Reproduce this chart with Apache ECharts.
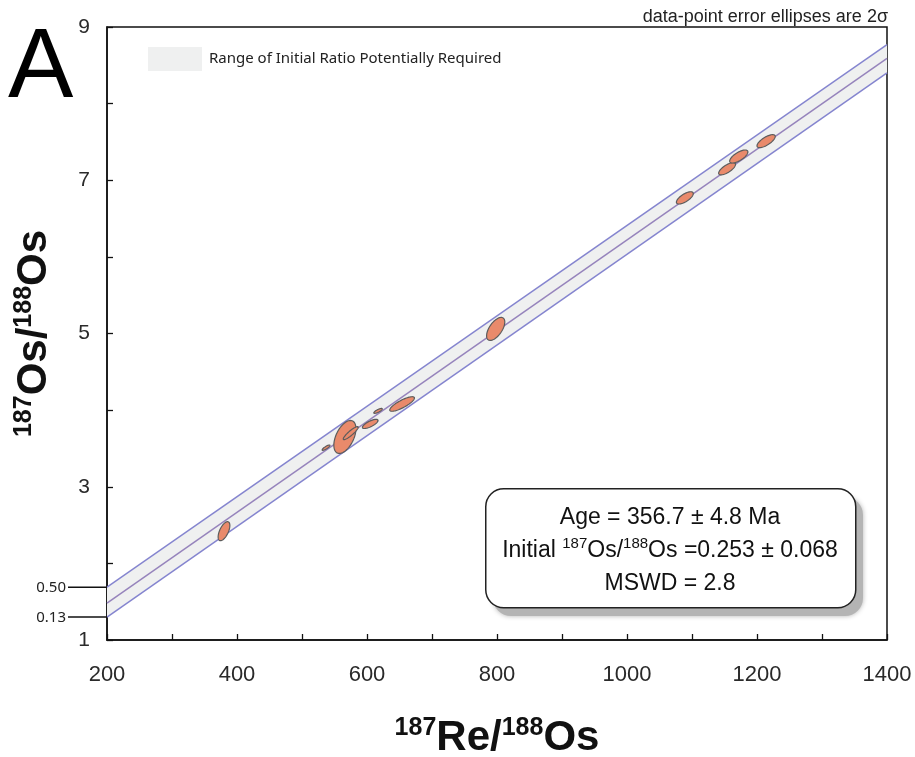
<!DOCTYPE html>
<html>
<head>
<meta charset="utf-8">
<script src="https://cdn.jsdelivr.net/npm/echarts@6/dist/echarts.min.js"></script>
<style>html,body{margin:0;padding:0;background:#fff;}#c{width:915px;height:757px;}</style>
</head>
<body>
<div id="c"></div>
<script>
// ---- data ----
const xTickLabels = [200, 400, 600, 800, 1000, 1200, 1400];
const yTickLabels = [1, 3, 5, 7, 9];
const lineX  = [200, 1400];
const upperY = [1.69, 8.77];
const regY   = [1.48, 8.59];
const lowerY = [1.30, 8.40];
const bandTickLabels = ['0.50', '0.13'];
const bandName = 'Range of Initial Ratio Potentially Required';
// error ellipses: centre x, centre y, 2σ x, 2σ y, correlation
const ellX   = [380, 537, 566, 575, 605, 617, 654, 798, 1089, 1154, 1172, 1214];
const ellY   = [2.42, 3.51, 3.65, 3.70, 3.82, 3.99, 4.08, 5.06, 6.77, 7.15, 7.31, 7.51];
const ellSx  = [9, 6, 17, 11.5, 12, 6.5, 19, 14, 13, 13, 14, 14];
const ellSy  = [0.124, 0.035, 0.215, 0.085, 0.06, 0.032, 0.095, 0.15, 0.08, 0.08, 0.085, 0.085];
const ellRho = [0.6, 0.85, 0.5, 0.9, 0.75, 0.8, 0.82, 0.6, 0.7, 0.72, 0.7, 0.72];

const chart = echarts.init(document.getElementById('c'));
const ellData = ellX.map((x, i) => [x, ellY[i], ellSx[i], ellSy[i], ellRho[i]]);
const bandData = [[lineX[0], upperY[0], lineX[1], upperY[1], lowerY[1], lowerY[0]]];
const toLine = ys => lineX.map((x, i) => [x, ys[i]]);
const bandLabelData = bandTickLabels.map((t, i) => [lineX[0], i === 0 ? upperY[0] : lowerY[0], i]);

const titleRich = {
  b: { fontFamily: 'Liberation Sans', fontWeight: 'bold', fontSize: 42, color: '#111', verticalAlign: 'bottom' },
  s: { fontFamily: 'Liberation Sans', fontWeight: 'bold', fontSize: 25, color: '#111', verticalAlign: 'bottom', padding: [0, 0, 18, 0] }
};

const option = {
  animation: false,
  backgroundColor: '#fff',
  grid: { left: 107, right: 28, top: 27, bottom: 117, containLabel: false, outerBoundsMode: 'none',
    show: true, borderColor: '#111', borderWidth: 1.5, backgroundColor: 'transparent' },
  legend: {
    left: 143, top: 42, itemWidth: 54, itemHeight: 24, icon: 'rect',
    data: [bandName],
    textStyle: { fontFamily: 'Noto Sans', fontSize: 15, color: '#222', padding: [0, 0, 0, 2] }
  },
  xAxis: {
    type: 'value', min: 200, max: 1400, interval: 100,
    axisLine: { lineStyle: { color: '#111', width: 1.5 } },
    axisTick: { inside: true, length: 6, lineStyle: { color: '#111', width: 1.3 } },
    splitLine: { show: false },
    axisLabel: { fontFamily: 'Liberation Sans', fontSize: 22, color: '#2a2a2a', margin: 24,
      formatter: v => xTickLabels.includes(v) ? String(v) : '' },
    name: '{s|187}{b|Re/}{s|188}{b|Os}', nameLocation: 'middle', nameGap: 76,
    nameTextStyle: { rich: titleRich }
  },
  yAxis: {
    type: 'value', min: 1, max: 9, interval: 1,
    axisLine: { lineStyle: { color: '#111', width: 1.5 } },
    axisTick: { inside: true, length: 6, lineStyle: { color: '#111', width: 1.3 } },
    splitLine: { show: false },
    axisLabel: { fontFamily: 'Liberation Sans', fontSize: 21, color: '#2a2a2a', margin: 17,
      formatter: v => yTickLabels.includes(v) ? String(v) : '' },
    name: '{s|187}{b|Os/}{s|188}{b|Os}', nameLocation: 'middle', nameGap: 52, nameRotate: 90,
    nameTextStyle: { rich: titleRich }
  },
  series: [
    {
      name: bandName, type: 'custom', data: bandData, z: 1,
      itemStyle: { color: '#EFF0F0' },
      encode: { x: [0, 2], y: [1, 3, 4, 5] },
      renderItem: (params, api) => {
        const p = [
          api.coord([api.value(0), api.value(1)]),
          api.coord([api.value(2), api.value(3)]),
          api.coord([api.value(2), api.value(4)]),
          api.coord([api.value(0), api.value(5)])
        ];
        return { type: 'polygon', shape: { points: p }, style: { fill: '#EFF0F0' } };
      }
    },
    { name: 'upper', type: 'line', data: toLine(upperY), symbol: 'none', silent: true, z: 2,
      lineStyle: { color: '#8585CF', width: 1.5 } },
    { name: 'isochron', type: 'line', data: toLine(regY), symbol: 'none', silent: true, z: 2,
      lineStyle: { color: '#9684BC', width: 1.5 } },
    { name: 'lower', type: 'line', data: toLine(lowerY), symbol: 'none', silent: true, z: 2,
      lineStyle: { color: '#8585CF', width: 1.5 } },
    {
      name: 'ellipses', type: 'custom', data: ellData, z: 3,
      encode: { x: 0, y: 1 },
      renderItem: (params, api) => {
        const cx = api.value(0), cy = api.value(1), sx = api.value(2), sy = api.value(3), r = api.value(4);
        const pts = [];
        const n = 72;
        for (let k = 0; k < n; k++) {
          const t = k / n * Math.PI * 2;
          const x = cx + sx * Math.cos(t);
          const y = cy + sy * (r * Math.cos(t) + Math.sqrt(1 - r * r) * Math.sin(t));
          pts.push(api.coord([x, y]));
        }
        return { type: 'polygon', shape: { points: pts },
          style: { fill: '#E98A6B', stroke: '#5c5c5c', lineWidth: 1.2 } };
      }
    },
    {
      name: 'bandTicks', type: 'custom', data: bandLabelData, z: 4, clip: false, silent: true,
      encode: { x: 0, y: 1 },
      renderItem: (params, api) => {
        const p = api.coord([api.value(0), api.value(1)]);
        const label = bandTickLabels[api.value(2)];
        return { type: 'group', children: [
          { type: 'line', shape: { x1: p[0] - 39, y1: p[1], x2: p[0], y2: p[1] }, style: { stroke: '#111', lineWidth: 1.5 } },
          { type: 'text', style: { text: label, x: p[0] - 41, y: p[1] + 1, align: 'right', verticalAlign: 'middle',
            textAlign: 'right', textVerticalAlign: 'middle', font: '15px "Noto Sans"', fill: '#222' } }
        ] };
      }
    }
  ],
  graphic: [
    { type: 'text', left: 8, top: 21, style: { text: 'A', font: '98px "Liberation Sans"', fill: '#000' } },
    { type: 'text', right: 27, top: 8, style: { text: 'data-point error ellipses are 2σ', font: '18px "Liberation Sans"', fill: '#222' } },
    { type: 'rect', left: 493, top: 497, shape: { width: 370, height: 119, r: 18 }, z: 9,
      style: { fill: '#b4b4b4', shadowBlur: 5, shadowColor: '#b4b4b4' } },
    { type: 'rect', left: 485, top: 488, shape: { width: 370, height: 119, r: 18 },
      style: { fill: '#fff', stroke: '#222', lineWidth: 1.5 }, z: 10 },
    { type: 'text', x: 670, y: 518, z: 11, style: { text: 'Age = 356.7 ± 4.8 Ma', font: '23px "Liberation Sans"', fill: '#111',
      align: 'center', verticalAlign: 'middle', textAlign: 'center', textVerticalAlign: 'middle' } },
    { type: 'text', x: 670, y: 549, z: 11, style: {
      text: '{n|Initial }{s|187}{n|Os/}{s|188}{n|Os =0.253 ± 0.068}',
      align: 'center', verticalAlign: 'middle', textAlign: 'center', textVerticalAlign: 'middle',
      rich: {
        n: { fontFamily: 'Liberation Sans', fontSize: 23, fill: '#111', color: '#111', verticalAlign: 'bottom' },
        s: { fontFamily: 'Liberation Sans', fontSize: 15, fill: '#111', color: '#111', verticalAlign: 'bottom', padding: [0, 0, 11, 0] }
      } } },
    { type: 'text', x: 670, y: 584, z: 11, style: { text: 'MSWD = 2.8', font: '23px "Liberation Sans"', fill: '#111',
      align: 'center', verticalAlign: 'middle', textAlign: 'center', textVerticalAlign: 'middle' } }
  ]
};
chart.setOption(option);
</script>
</body>
</html>
